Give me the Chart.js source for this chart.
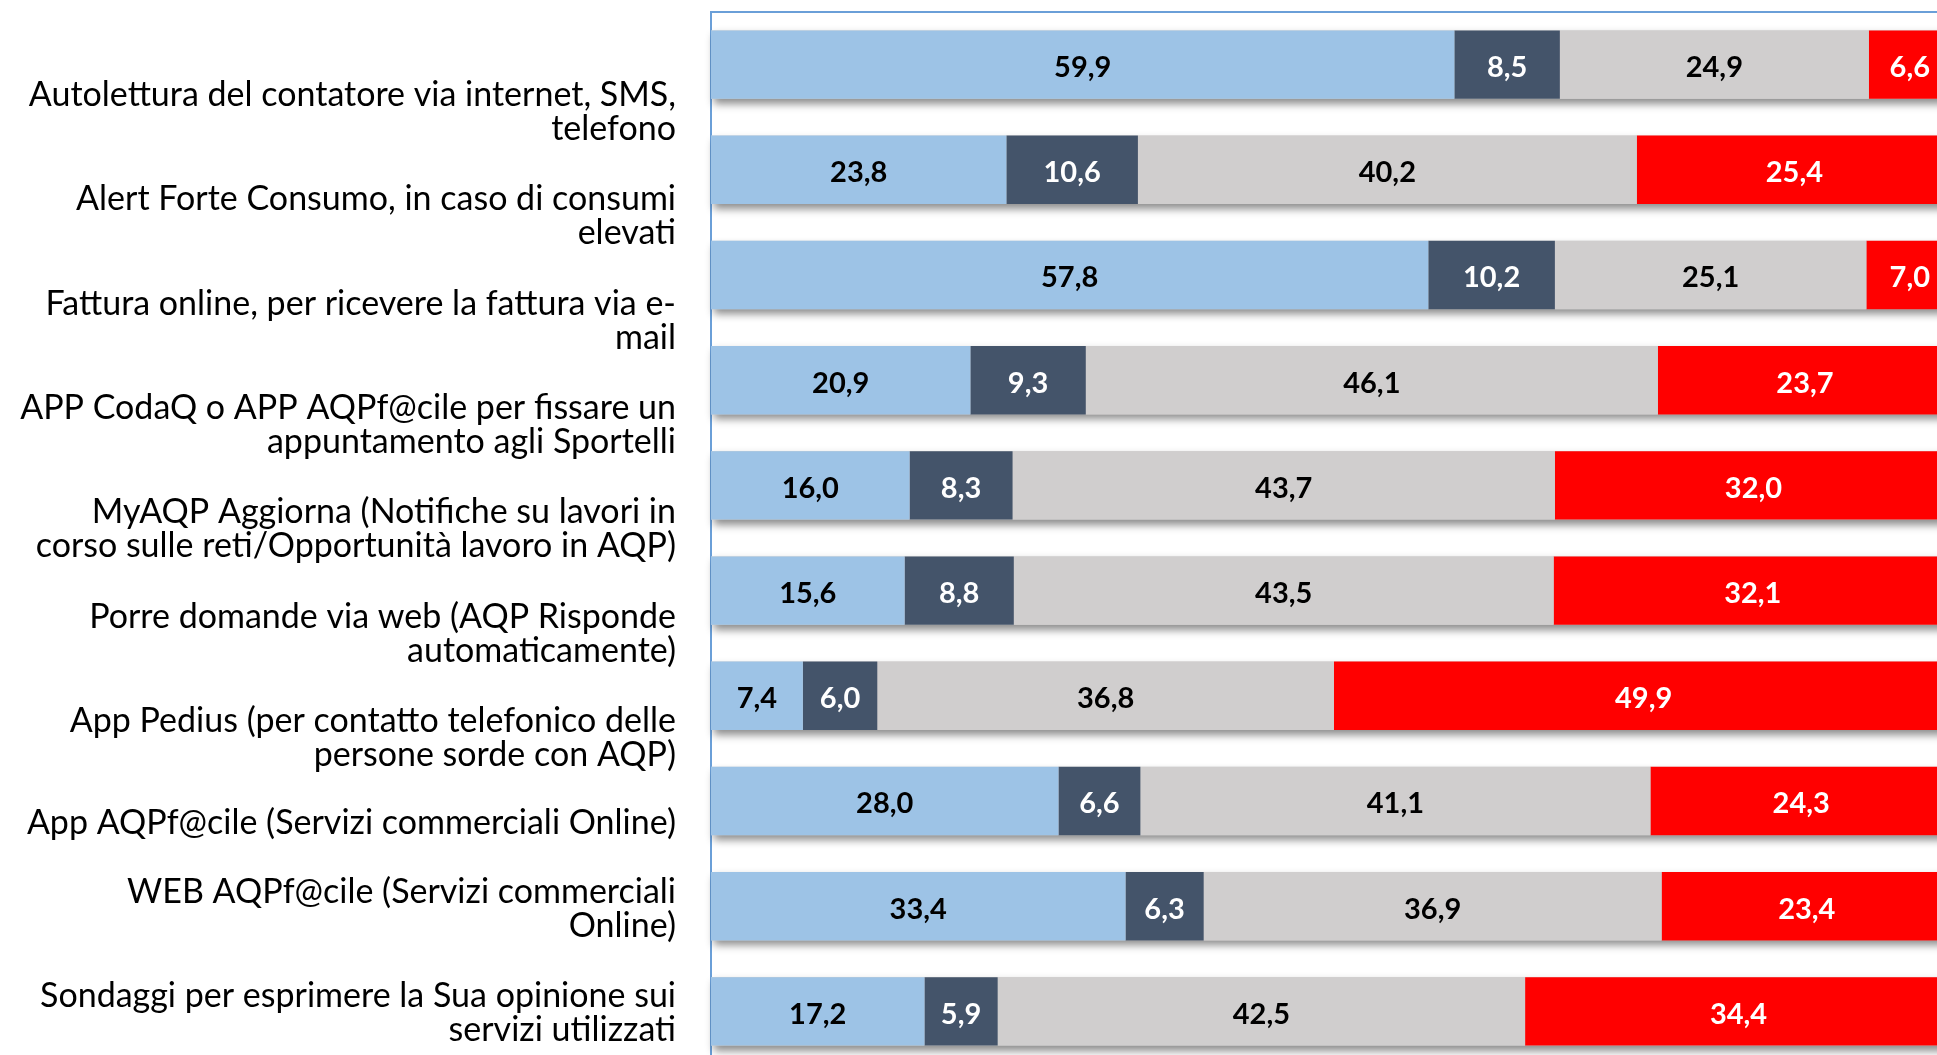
<!DOCTYPE html>
<html lang="it">
<head>
<meta charset="utf-8">
<title>Servizi AQP</title>
<script src="https://cdn.jsdelivr.net/npm/chart.js@4.4.1/dist/chart.umd.min.js"></script>
<style>
  html, body { margin: 0; padding: 0; background: #fff; overflow: hidden; }
  /* the original chart runs a little past the right and bottom edges */
  #wrap { position: relative; width: 1960px; height: 1070px; }
</style>
</head>
<body>
<div id="wrap"><canvas id="chart"></canvas></div>
<script>
// category labels, with the line breaks of the original
const categories = [
  ['Autolettura del contatore via internet, SMS,', 'telefono'],
  ['Alert Forte Consumo, in caso di consumi', 'elevati'],
  ['Fattura online, per ricevere la fattura via e-', 'mail'],
  ['APP CodaQ o APP AQPf@cile per fissare un', 'appuntamento agli Sportelli'],
  ['MyAQP Aggiorna (Notifiche su lavori in', 'corso sulle reti/Opportunità lavoro in AQP)'],
  ['Porre domande via web (AQP Risponde', 'automaticamente)'],
  ['App Pedius (per contatto telefonico delle', 'persone sorde con AQP)'],
  'App AQPf@cile (Servizi commerciali Online)',
  ['WEB AQPf@cile (Servizi commerciali', 'Online)'],
  ['Sondaggi per esprimere la Sua opinione sui', 'servizi utilizzati']
];

// percentages, one array per stacked segment (left to right)
const serie1 = [59.9, 23.8, 57.8, 20.9, 16.0, 15.6, 7.4, 28.0, 33.4, 17.2];
const serie2 = [8.5, 10.6, 10.2, 9.3, 8.3, 8.8, 6.0, 6.6, 6.3, 5.9];
const serie3 = [24.9, 40.2, 25.1, 46.1, 43.7, 43.5, 36.8, 41.1, 36.9, 42.5];
const serie4 = [6.6, 25.4, 7.0, 23.7, 32.0, 32.1, 49.9, 24.3, 23.4, 34.4];

// where the text labels sit, in category units (they drift from the bars)
const labelPos = [0.45, 1.44, 2.44, 3.43, 4.41, 5.41, 6.40, 7.21, 8.03, 9.02];

const axisBlue = '#6a9fd8';

// one drop shadow under each whole bar, drawn before the segments
const stackShadow = {
  id: 'stackShadow',
  beforeDatasetsDraw(chart) {
    const ctx = chart.ctx;
    const first = chart.getDatasetMeta(0).data;
    const last = chart.getDatasetMeta(chart.data.datasets.length - 1).data;
    ctx.save();
    ctx.shadowColor = 'rgba(0,0,0,0.45)';
    ctx.shadowBlur = 8;
    ctx.shadowOffsetX = 3;
    ctx.shadowOffsetY = 5;
    ctx.fillStyle = '#d0cece';
    first.forEach((bar, i) => {
      const a = bar.getProps(['base', 'y', 'height'], true);
      const b = last[i].getProps(['x'], true);
      ctx.fillRect(a.base, a.y - a.height / 2, b.x - a.base, a.height);
    });
    ctx.restore();
  }
};

// value labels in the middle of each segment, decimal comma
const valueLabels = {
  id: 'valueLabels',
  afterDatasetsDraw(chart) {
    const ctx = chart.ctx;
    ctx.save();
    ctx.font = 'bold 29px Lato';
    ctx.textAlign = 'center';
    ctx.textBaseline = 'middle';
    chart.data.datasets.forEach((ds, di) => {
      const meta = chart.getDatasetMeta(di);
      ctx.fillStyle = ds.labelColor;
      meta.data.forEach((bar, i) => {
        const p = bar.getProps(['x', 'y', 'base'], true);
        ctx.fillText(ds.data[i].toFixed(1).replace('.', ','), (p.x + p.base) / 2, p.y + 3);
      });
    });
    ctx.restore();
  }
};

function makeSet(label, data, color, labelColor) {
  return {
    label: label,
    data: data,
    backgroundColor: color,
    borderWidth: 0,
    barPercentage: 0.65,
    categoryPercentage: 1,
    labelColor: labelColor
  };
}

new Chart(document.getElementById('chart'), {
  type: 'bar',
  data: {
    labels: categories,
    datasets: [
      makeSet('Serie 1', serie1, '#9dc3e6', '#000000'),
      makeSet('Serie 2', serie2, '#44546a', '#ffffff'),
      makeSet('Serie 3', serie3, '#d0cece', '#000000'),
      makeSet('Serie 4', serie4, '#ff0000', '#ffffff')
    ]
  },
  options: {
    indexAxis: 'y',
    responsive: true,
    maintainAspectRatio: false,
    animation: false,
    layout: { padding: { left: 0, top: 12, right: 8, bottom: 6 } },
    plugins: {
      legend: { display: false },
      tooltip: { enabled: false }
    },
    scales: {
      x: {
        position: 'top',
        stacked: true,
        min: 0,
        max: 100,
        grid: { display: false, drawTicks: false },
        ticks: { display: false },
        border: { display: true, color: axisBlue, width: 2 }
      },
      y: {
        display: false,
        stacked: true
      },
      yLab: {
        type: 'linear',
        position: 'left',
        reverse: true,
        offset: false,
        min: -0.5,
        max: 9.5,
        afterBuildTicks: (s) => { s.ticks = labelPos.map((v) => ({ value: v })); },
        afterFit: (s) => {
          s.width = 711;
          s.paddingTop = 0;
          s.paddingBottom = 0;
        },
        grid: { display: false, drawTicks: false, offset: false },
        border: { display: true, color: axisBlue, width: 2 },
        ticks: {
          autoSkip: false,
          padding: 35,
          color: '#000000',
          font: { family: 'Lato', size: 34, lineHeight: 1.0 },
          callback: (v, i) => categories[i]
        }
      }
    }
  },
  plugins: [stackShadow, valueLabels]
});
</script>
</body>
</html>
